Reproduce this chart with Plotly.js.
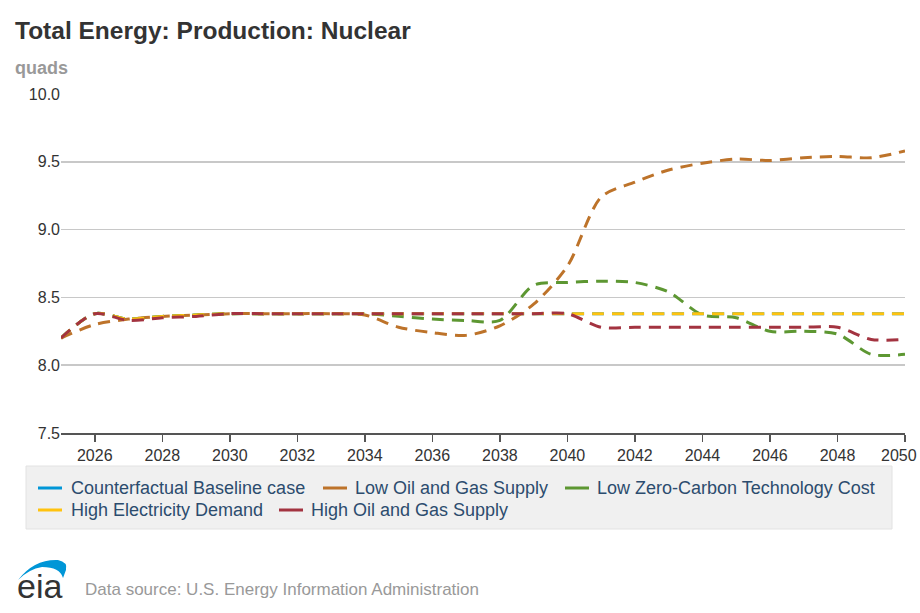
<!DOCTYPE html>
<html>
<head>
<meta charset="utf-8">
<script src="https://cdn.plot.ly/plotly-3.0.1.min.js"></script>
<style>
  html, body { margin: 0; padding: 0; background: #fff; }
  #chart { width: 920px; height: 613px; }
</style>
</head>
<body>
<div id="chart"></div>
<script>
var years = [2025,2026,2027,2028,2029,2030,2031,2032,2033,2034,2035,2036,2037,
             2038,2039,2040,2041,2042,2043,2044,2045,2046,2047,2048,2049,2050];

var seriesNames = ['Counterfactual Baseline case','Low Oil and Gas Supply',
  'Low Zero-Carbon Technology Cost','High Electricity Demand','High Oil and Gas Supply'];

var baseline = [8.20,8.38,8.34,8.36,8.37,8.38,8.38,8.38,8.38,8.38,8.38,8.38,8.38,
                8.38,8.38,8.38,8.38,8.38,8.38,8.38,8.38,8.38,8.38,8.38,8.38,8.38];
var lowOilGas = [8.20,8.30,8.34,8.36,8.37,8.38,8.38,8.38,8.38,8.37,8.28,8.24,8.22,
                 8.29,8.45,8.73,9.24,9.35,9.44,9.49,9.52,9.51,9.53,9.54,9.53,9.58];
var lowZeroCarbon = [8.20,8.38,8.34,8.36,8.37,8.38,8.38,8.38,8.38,8.38,8.36,8.34,8.33,
                     8.33,8.59,8.61,8.62,8.61,8.54,8.37,8.35,8.25,8.25,8.23,8.08,8.08];
var highElec = [8.20,8.38,8.34,8.36,8.37,8.38,8.38,8.38,8.38,8.38,8.38,8.38,8.38,
                8.38,8.38,8.38,8.38,8.38,8.38,8.38,8.38,8.38,8.38,8.38,8.38,8.38];
var highOilGas = [8.20,8.38,8.33,8.35,8.36,8.38,8.38,8.38,8.38,8.38,8.38,8.38,8.38,
                  8.38,8.38,8.38,8.28,8.28,8.28,8.28,8.28,8.28,8.28,8.28,8.19,8.19];

var xTicks = [2026,2028,2030,2032,2034,2036,2038,2040,2042,2044,2046,2048,2050];
var xTickText = ['2026','2028','2030','2032','2034','2036','2038','2040','2042','2044','2046','2048','2050'];

var colors = ['#0096d7','#bd732a','#5d9732','#ffc20e','#a33340'];
var allSeries = [baseline, lowOilGas, lowZeroCarbon, highElec, highOilGas];
var FONT = 'Liberation Sans, Arial, sans-serif';

var data = allSeries.map(function (ys, i) {
  return {
    x: years,
    y: ys,
    type: 'scatter',
    mode: 'lines',
    name: seriesNames[i],
    line: {color: colors[i], width: 3, dash: '12px,8px', shape: 'spline', smoothing: 0.8},
    hoverinfo: 'skip'
  };
});

// plot area: x 61..905 px, y 94..433 px
function px(x) { return (x - 61) / 844; }
function py(y) { return (433 - y) / 339; }

var shapes = [];
var annotations = [];

// legend box
shapes.push({type: 'rect', xref: 'paper', yref: 'paper',
  x0: px(26), x1: px(892), y0: py(466), y1: py(529),
  fillcolor: '#f0f0f0', line: {color: '#e2e2e2', width: 1}, layer: 'below'});

var legendPos = [[38, 71, 488], [323, 355, 488], [565, 597, 488], [38, 71, 510], [279, 311, 510]];
legendPos.forEach(function (p, i) {
  shapes.push({type: 'line', xref: 'paper', yref: 'paper',
    x0: px(p[0]), x1: px(p[0] + 24), y0: py(p[2]), y1: py(p[2]),
    line: {color: colors[i], width: 3}});
  annotations.push({xref: 'paper', yref: 'paper', x: px(p[1] - 2), y: py(p[2]),
    xanchor: 'left', yanchor: 'middle', showarrow: false, text: seriesNames[i],
    font: {family: FONT, size: 18, color: '#2c4c6e'}});
});

// title and unit
annotations.push({xref: 'paper', yref: 'paper', x: px(13), y: py(30),
  xanchor: 'left', yanchor: 'middle', showarrow: false,
  text: '<b>Total Energy: Production: Nuclear</b>',
  font: {family: FONT, size: 24.5, color: '#333333'}});
annotations.push({xref: 'paper', yref: 'paper', x: px(13), y: py(68),
  xanchor: 'left', yanchor: 'middle', showarrow: false, text: '<b>quads</b>',
  font: {family: FONT, size: 18, color: '#999999'}});

// last x label sits on the right edge; keep it inside the page
var lastTick = xTickText.length - 1;
var axisTickText = xTickText.slice(0, lastTick).concat(['']);
annotations.push({xref: 'paper', yref: 'paper', x: px(919), y: py(455),
  xanchor: 'right', yanchor: 'middle', showarrow: false, text: xTickText[lastTick],
  font: {family: FONT, size: 16, color: '#333333'}});

// footer
annotations.push({xref: 'paper', yref: 'paper', x: px(83), y: py(589),
  xanchor: 'left', yanchor: 'middle', showarrow: false,
  text: 'Data source: U.S. Energy Information Administration',
  font: {family: FONT, size: 17, color: '#999999'}});
annotations.push({xref: 'paper', yref: 'paper', x: px(15), y: py(586),
  xanchor: 'left', yanchor: 'middle', showarrow: false, text: 'eia',
  font: {family: FONT, size: 34, color: '#333333'}});

// eia swoosh
function P(x, y) { return px(x).toFixed(4) + ',' + py(y).toFixed(4); }
shapes.push({type: 'path', xref: 'paper', yref: 'paper',
  path: 'M' + P(18, 580) + ' Q' + P(34, 559) + ' ' + P(58, 560) +
        ' Q' + P(68, 562) + ' ' + P(66, 570) + ' L' + P(63, 578) +
        ' Q' + P(60, 567) + ' ' + P(42, 567) + ' Q' + P(29, 569) + ' ' + P(18, 580) + ' Z',
  fillcolor: '#0096d7', line: {width: 0}});

var layout = {
  width: 920,
  height: 613,
  margin: {l: 61, r: 15, t: 94, b: 180, pad: 0},
  paper_bgcolor: '#ffffff',
  plot_bgcolor: '#ffffff',
  showlegend: false,
  font: {family: FONT, size: 16, color: '#333333'},
  xaxis: {
    range: [2025, 2050],
    tickvals: xTicks,
    ticktext: axisTickText,
    showgrid: false,
    zeroline: false,
    showline: true,
    linecolor: '#555555',
    linewidth: 2,
    ticks: 'outside',
    ticklen: 7,
    tickwidth: 1.5,
    tickcolor: '#555555',
    tickfont: {size: 16, color: '#333333'}
  },
  yaxis: {
    range: [7.5, 10.0],
    tickvals: [7.5, 8.0, 8.5, 9.0, 9.5, 10.0],
    ticktext: ['7.5', '8.0', '8.5', '9.0', '9.5', '10.0'],
    showgrid: true,
    gridcolor: '#c8c8c8',
    gridwidth: 1.5,
    zeroline: false,
    showline: false,
    ticks: '',
    ticklabelstandoff: 0,
    tickfont: {size: 16, color: '#333333'}
  },
  shapes: shapes,
  annotations: annotations
};

Plotly.newPlot('chart', data, layout, {displayModeBar: false, staticPlot: true});
</script>
</body>
</html>
